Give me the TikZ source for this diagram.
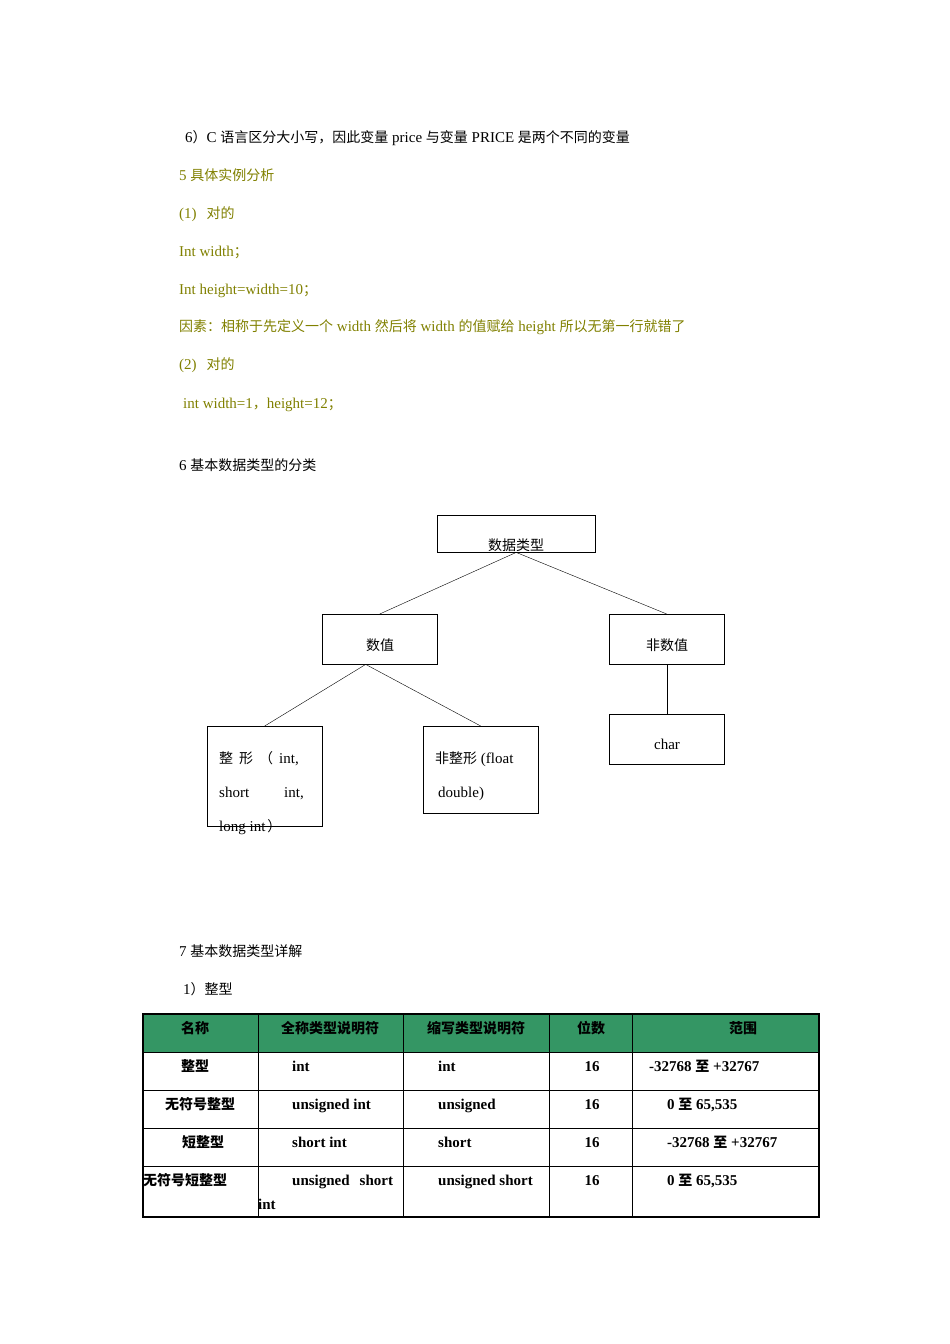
\documentclass[tikz,border=0pt]{standalone}
\usepackage{fontspec}
\setmainfont{Liberation Serif}
\newfontfamily\cjk{Noto Sans CJK SC}
\definecolor{olivet}{RGB}{128,128,0}
\definecolor{hdr}{RGB}{52,150,100}
\newcommand{\zh}[1]{{\cjk\fontsize{14}{16}\selectfont #1}}
\begin{document}
\begin{tikzpicture}[x=1pt,y=-1pt,
  txt/.style={anchor=base west,inner sep=0pt,font=\fontsize{15}{18}\selectfont},
  box/.style={draw,inner sep=0pt,anchor=north west,font=\fontsize{15}{18}\selectfont},
  cell/.style={anchor=base,inner sep=0pt,font=\fontsize{15}{18}\selectfont\bfseries},
  cellw/.style={anchor=base west,inner sep=0pt,font=\fontsize{15}{18}\selectfont\bfseries}]
\useasboundingbox (0,0) rectangle (950,1344);
\node[txt] (t1) at (185,142) {6\zh{）}C \zh{语言区分大小写，因此变量} price \zh{与变量} PRICE \zh{是两个不同的变量}};
\begin{scope}[olivet]
\node[txt,olivet] (t2) at (179,180) {5 \zh{具体实例分析}};
\node[txt,olivet] (t3) at (179,218) {(1)\hspace{10pt}\zh{对的}};
\node[txt,olivet] (t4) at (179,256) {Int width\zh{；}};
\node[txt,olivet] (t5) at (179,294) {Int height=width=10\zh{；}};
\node[txt,olivet] (t6) at (179,331) {\zh{因素：相称于先定义一个} width \zh{然后将} width \zh{的值赋给} height \zh{所以无第一行就错了}};
\node[txt,olivet] (t7) at (179,369) {(2)\hspace{10pt}\zh{对的}};
\node[txt,olivet] (t8) at (183,408) {int width=1\zh{，}height=12\zh{；}};
\end{scope}
\node[txt] (t9) at (179,470) {6 \zh{基本数据类型的分类}};
% diagram
\node[box,minimum width=158pt,minimum height=37pt] (a) at (437,515) {};
\node[inner sep=0pt] (al) at (516,545) {\zh{数据类型}};
\node[box,minimum width=115pt,minimum height=50pt] (b) at (322,614) {};
\node[inner sep=0pt] (bl) at (380,645) {\zh{数值}};
\node[box,minimum width=115pt,minimum height=50pt] (c) at (609,614) {};
\node[inner sep=0pt] (cl) at (667,645) {\zh{非数值}};
\node[box,minimum width=115pt,minimum height=50pt] (d) at (609,714) {};
\node[inner sep=0pt,font=\fontsize{15}{18}\selectfont] (dl) at (667,744) {char};
\node[box,minimum width=115pt,minimum height=100pt] (e) at (207,726) {};
\node[txt] (e1) at (219,763) {\zh{整\hspace{6pt}形\hspace{6pt}（}\hspace{6pt}int,};
\node[txt] (e2) at (219,797) {short\hspace{35pt}int,};
\node[txt] (e3) at (219,831) {long int\hspace{2pt}\zh{）}};
\node[box,minimum width=115pt,minimum height=87pt] (f) at (423,726) {};
\node[txt] (f1) at (435,763) {\zh{非整形} (float};
\node[txt] (f2) at (438,797) {double)};
\draw (a.south) -- (b.north);
\draw (a.south) -- (c.north);
\draw ([xshift=-14pt]b.south) -- (e.north);
\draw ([xshift=-14pt]b.south) -- (f.north);
\draw (c.south) -- (d.north);
% section 7
\node[txt] (s7) at (179,956) {7 \zh{基本数据类型详解}};
\node[txt] (s71) at (183,994) {1\zh{）整型}};
% table
\fill[hdr] (143,1014) rectangle (819,1052);
\draw[line width=1.3pt] (143,1014) rectangle (819,1217);
\foreach \y in {1052,1090,1128,1166} \draw (143,\y) -- (819,\y);
\foreach \x in {258,403,549,632} \draw (\x,1014) -- (\x,1217);
\newcommand{\zb}[1]{{\cjk\bfseries\fontsize{14}{16}\selectfont #1}}
\node[cell] (h1) at (195,1033) {\zb{名称}};
\node[cell] (h2) at (330,1033) {\zb{全称类型说明符}};
\node[cell] (h3) at (476,1033) {\zb{缩写类型说明符}};
\node[cell] (h4) at (591,1033) {\zb{位数}};
\node[cell] (h5) at (743,1033) {\zb{范围}};
\node[cell] (r11) at (195,1071) {\zb{整型}};
\node[cellw] (r12) at (292,1071) {int};
\node[cellw] (r13) at (438,1071) {int};
\node[cell] (r14) at (592,1071) {16};
\node[cellw] (r15) at (649,1071) {-32768 \zb{至} +32767};
\node[cell] (r21) at (200,1109) {\zb{无符号整型}};
\node[cellw] (r22) at (292,1109) {unsigned int};
\node[cellw] (r23) at (438,1109) {unsigned};
\node[cell] (r24) at (592,1109) {16};
\node[cellw] (r25) at (667,1109) {0 \zb{至} 65,535};
\node[cell] (r31) at (203,1147) {\zb{短整型}};
\node[cellw] (r32) at (292,1147) {short int};
\node[cellw] (r33) at (438,1147) {short};
\node[cell] (r34) at (592,1147) {16};
\node[cellw] (r35) at (667,1147) {-32768 \zb{至} +32767};
\node[cellw] (r41) at (143,1185) {\zb{无符号短整型}};
\node[cellw] (r42) at (292,1185) {unsigned\hspace{10pt}short};
\node[cellw] (r42b) at (258,1209) {int};
\node[cellw] (r43) at (438,1185) {unsigned short};
\node[cell] (r44) at (592,1185) {16};
\node[cellw] (r45) at (667,1185) {0 \zb{至} 65,535};
\end{tikzpicture}
\end{document}
